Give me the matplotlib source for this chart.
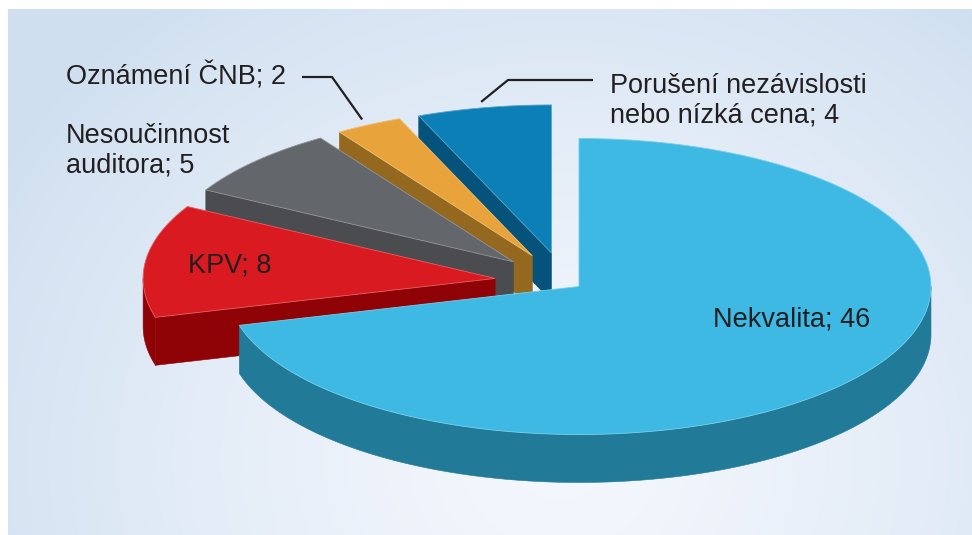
import numpy as np
import matplotlib
matplotlib.use("Agg")
import matplotlib.pyplot as plt
from matplotlib.patches import Polygon
from matplotlib.colors import to_rgb

plt.rcParams['font.family'] = ['Liberation Sans', 'DejaVu Sans']

# ---------------- data ----------------
categories = ["Nekvalita", "KPV", "Nesoučinnost auditora", "Oznámení ČNB",
              "Porušení nezávislosti nebo nízká cena"]
values = [46, 8, 5, 2, 4]
label_texts = ["Nekvalita; 46", "KPV; 8", "Nesoučinnost\nauditora; 5",
               "Oznámení ČNB; 2", "Porušení nezávislosti\nnebo nízká cena; 4"]

# ---------------- style ----------------
top_colors = ["#3db9e3", "#d91a21", "#63666b", "#e8a33a", "#0c7fb6"]
side_colors = ["#207a98", "#8f0307", "#4a4c50", "#94681f", "#05527a"]
explode = [0.05, 0.2, 0.2, 0.2, 0.2]

W, H = 972, 535
fig = plt.figure(figsize=(W / 100, H / 100), dpi=100)
ax = fig.add_axes([0, 0, 1, 1])
ax.axis('off')

# background panel with radial gradient
px0, py0 = 8, 9
yy, xx = np.mgrid[py0:H, px0:W] + 0.5
d = np.hypot((xx - 560) / 1.0, (yy - 460) / 0.9)
t = np.clip(d / 660, 0, 1) ** 1.35
c_in = np.array(to_rgb("#f4f7fd"))
c_out = np.array(to_rgb("#cfdff0"))
img = c_in * (1 - t[..., None]) + c_out * t[..., None]
ax.imshow(img, extent=(px0, W, H, py0), zorder=0, interpolation='bilinear', aspect='auto')
ax.set_xlim(0, W)
ax.set_ylim(H, 0)

# pie layout (pixel units)
CX, CY = 565, 282
RX, RY = 352, 148
DEPTH = 48

total = float(sum(values))
bounds = np.concatenate([[0.0], np.cumsum(values)]) / total * 2 * np.pi
n = len(values)


def lighten(c, f):
    c = np.array(to_rgb(c))
    return tuple(c + (1 - c) * f)


mids = [(bounds[i] + bounds[i + 1]) / 2 for i in range(n)]
order = sorted(range(n), key=lambda i: -np.cos(mids[i]))
origins = {}
z = 2
for i in order:
    a0, a1 = bounds[i], bounds[i + 1]
    mid = mids[i]
    ox = CX + explode[i] * RX * np.sin(mid)
    oy = CY - explode[i] * RY * np.cos(mid)
    origins[i] = (ox, oy)
    phi = np.linspace(a0, a1, 300)
    axx = ox + RX * np.sin(phi)
    ayy = oy - RY * np.cos(phi)
    faces = []
    lo, hi = max(a0, np.pi / 2), min(a1, 1.5 * np.pi)
    if hi > lo:
        p = np.linspace(lo, hi, 300)
        wx = ox + RX * np.sin(p)
        wy = oy - RY * np.cos(p)
        faces.append(np.column_stack([np.r_[wx, wx[::-1]], np.r_[wy, wy[::-1] + DEPTH]]))
    if np.sin(a0) < -1e-6:
        ex, ey = ox + RX * np.sin(a0), oy - RY * np.cos(a0)
        faces.append(np.array([[ox, oy], [ex, ey], [ex, ey + DEPTH], [ox, oy + DEPTH]]))
    if np.sin(a1) > 1e-6:
        ex, ey = ox + RX * np.sin(a1), oy - RY * np.cos(a1)
        faces.append(np.array([[ox, oy], [ex, ey], [ex, ey + DEPTH], [ox, oy + DEPTH]]))
    for f in faces:
        ax.add_patch(Polygon(f, closed=True, facecolor=side_colors[i],
                             edgecolor=side_colors[i], lw=0.4, zorder=z))
    z += 1
    top = np.column_stack([np.r_[ox, axx], np.r_[oy, ayy]])
    ax.add_patch(Polygon(top, closed=True, facecolor=top_colors[i],
                         edgecolor=lighten(top_colors[i], 0.3), lw=0.6, zorder=z))
    z += 1

# labels (layout positions in pixels; y = baseline of the last line)
label_pos = [(792, 327, 'center'), (188, 272, 'left'), (66, 172, 'left'),
             (66, 84, 'left'), (610, 122, 'left')]
for i in range(n):
    x, y, ha = label_pos[i]
    ax.text(x, y, label_texts[i], ha=ha, va='baseline', fontsize=19.5,
            color='#231f20', linespacing=1.14, zorder=50)

# leader lines for the two smallest outside labels
leaders = {3: [(302, 77), (332, 77)], 4: [(593, 80), (508, 80)]}
for i, pts in leaders.items():
    ox, oy = origins[i]
    mid = mids[i]
    end = (ox + 1.04 * RX * np.sin(mid), oy - 1.04 * RY * np.cos(mid))
    xs = [p[0] for p in pts] + [end[0]]
    ys = [p[1] for p in pts] + [end[1]]
    ax.plot(xs, ys, color='#231f20', lw=1.6, zorder=49, solid_capstyle='butt')

fig.savefig("out.png", dpi=100)
